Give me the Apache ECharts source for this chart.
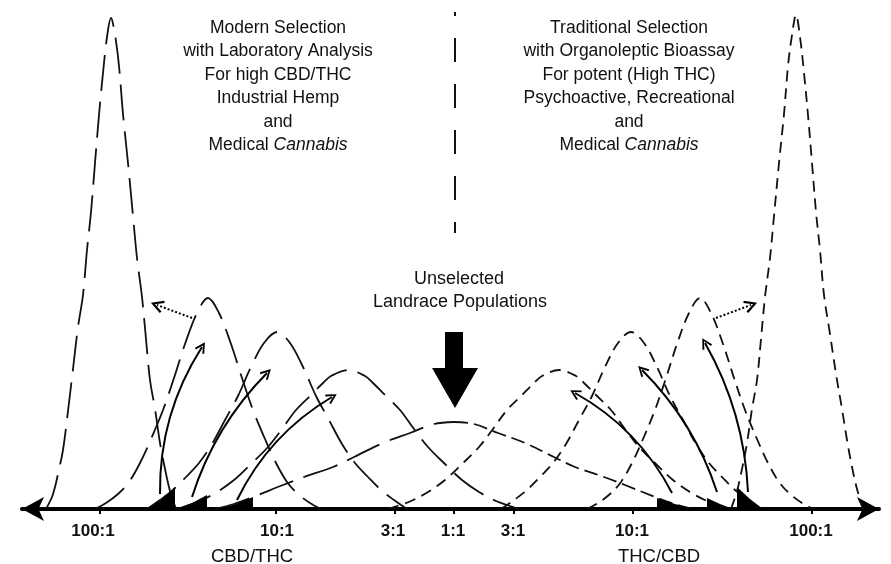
<!DOCTYPE html>
<html><head><meta charset="utf-8">
<script src="https://cdn.jsdelivr.net/npm/echarts@6/dist/echarts.min.js"></script>
<style>html,body{margin:0;padding:0;background:#fff}#c{width:891px;height:564px}</style>
</head><body><div id="c"></div>
<script>
// ---- axis ticks & labels (x position along the ratio axis) ----
const tickPos = [100, 276, 395, 454, 514, 633, 812];
const labelPos = [93, 277, 393, 453, 513, 632, 811];
const labelText = ['100:1', '10:1', '3:1', '1:1', '3:1', '10:1', '100:1'];

// ---- population curves [position, relative frequency] ----
const curveL1 = [[46,0],[52,12],[55,22],[58,35],[63,59],[68,98],[73,140],[78,182],[83,214],[87,259],[91,297],[95,346],[99,394],[103,436],[107,472],[111,491],[115,474],[119,443],[123,395],[128,346],[133,293],[137,251],[142,212],[146,170],[150,129],[155,100],[160,66],[165,40],[170,18],[176,0]];
const curveL2 = [[95,0],[106,6],[118,15],[129,27],[140,46],[151,70],[163,99],[174,131],[185,165],[197,196],[208,211],[219,196],[231,165],[242,131],[253,99],[265,70],[276,46],[287,27],[298,15],[310,6],[321,0]];
const curveL3 = [[147,0],[160,9],[173,19],[186,32],[199,46],[212,65],[225,89],[238,113],[251,142],[264,166],[277,177],[290,166],[303,142],[316,113],[329,89],[342,65],[355,46],[368,32],[381,19],[394,9],[407,0]];
const curveL4 = [[177,0],[186,3],[200,8],[217,17],[234,29],[251,45],[268,62],[282,80],[296,99],[311,114],[323,126],[331,133],[348,139],[365,133],[373,126],[385,114],[400,99],[414,80],[428,62],[445,45],[462,29],[479,17],[496,8],[510,3],[519,0]];
const curveCL = [[215,0],[234,5],[253,12],[283,24],[304,32],[333,42],[354,52],[383,66],[410,76],[434,85],[454,87]];
const curveCR = [[454,87],[474,85],[498,76],[525,66],[554,52],[575,42],[604,32],[625,24],[655,12],[674,5],[693,0]];
const curveR4 = [[388,0],[397,3],[411,8],[428,17],[445,29],[462,45],[479,62],[493,80],[507,99],[522,114],[534,126],[542,133],[559,139],[576,133],[584,126],[596,114],[611,99],[625,80],[639,62],[656,45],[673,29],[690,17],[707,8],[721,3],[730,0]];
const curveR3 = [[501,0],[514,9],[527,19],[540,32],[553,46],[566,65],[579,89],[592,113],[605,142],[618,166],[631,177],[644,166],[657,142],[670,113],[683,89],[696,65],[709,46],[722,32],[735,19],[748,9],[761,0]];
const curveR2 = [[587,0],[598,6],[610,15],[621,27],[632,46],[643,70],[655,99],[666,131],[677,165],[689,196],[700,211],[711,196],[723,165],[734,131],[745,99],[757,70],[768,46],[779,27],[790,15],[802,6],[813,0]];
const curveR1 = [[731,0],[737,18],[742,40],[747,66],[752,100],[757,129],[761,170],[765,212],[770,251],[774,293],[779,346],[784,395],[788,443],[792,474],[796,494],[800,472],[804,436],[808,394],[812,346],[816,297],[820,259],[824,214],[830,175],[836,135],[842,100],[847,69],[852,42],[857,20],[863,0]];

// ---- selected tails (filled wedges) ----
const wedgeL1 = [[147,0],[161,9],[175,22]];
const wedgeL2 = [[177,0],[192,6],[207,14]];
const wedgeL3 = [[218,0],[236,5],[253,12]];
const wedgeR1 = [[657,11],[675,5],[693,0]];
const wedgeR2 = [[707,11],[720,5],[733,0]];
const wedgeR3 = [[737,22],[750,10],[763,0]];

// ---- selection arrows [start, end] ----
const arrowL1 = [[160,15],[202,162]];
const arrowL2 = [[192,12],[267,136]];
const arrowL3 = [[237,9],[332,112]];
const arrowR1 = [[748,17],[705,166]];
const arrowR2 = [[717,17],[642,139]];
const arrowR3 = [[672,16],[575,116]];
const dotArrowL = [[192,191],[157,204]];
const dotArrowR = [[716,191],[751,204]];
const divider = [[455,497],[455,276]];
const landraceArrow = [[455,139]];

const FONT = '"Liberation Sans", Arial, Helvetica, sans-serif';
const CHEV = 'path://M0,10 L5,0 L10,10 L8.5,11 L5,3.6 L1.5,11 Z';
const LONG = [36, 11], SHORT = [11, 7], MID = [14, 6];

function curve(data, dash) {
  return { type: 'line', data: data, smooth: 0.35, symbol: 'none', silent: true, z: 3,
    lineStyle: { color: '#111', width: 1.8, type: dash } };
}
function wedge(data) {
  return { type: 'line', data: data, symbol: 'none', silent: true, z: 4,
    lineStyle: { width: 0 }, areaStyle: { color: '#000', opacity: 1 } };
}
function arrow(data, curveness, dotted, size) {
  return { type: 'lines', coordinateSystem: 'cartesian2d', silent: true, z: 5,
    data: [{ coords: data }],
    symbol: ['none', CHEV], symbolSize: size,
    lineStyle: { color: '#000', width: 2, curveness: curveness, type: dotted ? 'dotted' : 'solid', opacity: 1 } };
}

const series = [
  curve(curveL1, LONG), curve(curveL2, LONG), curve(curveL3, LONG), curve(curveL4, LONG), curve(curveCL, LONG),
  curve(curveCR, MID), curve(curveR4, SHORT), curve(curveR3, SHORT), curve(curveR2, SHORT), curve(curveR1, SHORT),
  wedge(wedgeL1), wedge(wedgeL2), wedge(wedgeL3), wedge(wedgeR1), wedge(wedgeR2), wedge(wedgeR3),
  arrow(arrowL1, 0.15, false, [13, 11]), arrow(arrowL2, 0.12, false, [13, 11]), arrow(arrowL3, 0.15, false, [13, 11]),
  arrow(arrowR1, -0.12, false, [13, 11]), arrow(arrowR2, -0.12, false, [13, 11]), arrow(arrowR3, -0.15, false, [13, 11]),
  arrow(dotArrowL, 0, true, [17, 13]), arrow(dotArrowR, 0, true, [17, 13]),
  { type: 'line', data: divider, symbol: 'none', silent: true, z: 3,
    lineStyle: { color: '#111', width: 2, type: [24, 22], dashOffset: 20 } },
  { type: 'scatter', data: landraceArrow, silent: true, z: 5,
    symbol: 'path://M13,0 L31,0 L31,36 L46,36 L23,76 L0,36 L13,36 Z', symbolSize: [46, 76],
    itemStyle: { color: '#000', opacity: 1 } }
];

const rich = { i: { fontStyle: 'italic', fontSize: 17.5, fontFamily: FONT, fill: '#111' } };
function block(x, lines) {
  return { type: 'text', x: x, y: 16.5, silent: true,
    style: { text: lines.join('\n'), textAlign: 'center', textVerticalAlign: 'top',
      fontSize: 17.5, fontFamily: FONT, fill: '#111', lineHeight: 23.4, rich: rich } };
}
function label(x, y, t, size) {
  return { type: 'text', x: x, y: y, silent: true,
    style: { text: t, textAlign: 'center', textVerticalAlign: 'middle', fontSize: size, fontFamily: FONT, fill: '#111' } };
}

const chart = echarts.init(document.getElementById('c'), null, { renderer: 'canvas' });
chart.setOption({
  animation: false,
  backgroundColor: '#fff',
  grid: { left: 22, right: 12, top: 0, bottom: 55 },
  xAxis: {
    type: 'value', min: 22, max: 879,
    axisLine: { show: true, onZero: false, symbol: ['arrow', 'arrow'], symbolSize: [18, 22],
      lineStyle: { color: '#000', width: 4 } },
    axisTick: { show: true, customValues: tickPos, length: 5, lineStyle: { color: '#000', width: 2 } },
    axisLabel: { show: true, customValues: labelPos, margin: 14, color: '#111', fontWeight: 'bold', fontSize: 17, fontFamily: FONT,
      formatter: function (v) { const k = labelPos.indexOf(v); return k >= 0 ? labelText[k] : ''; } },
    splitLine: { show: false }
  },
  yAxis: { type: 'value', min: 0, max: 509, show: false, splitLine: { show: false } },
  graphic: [
    block(278, ['Modern Selection', 'with Laboratory Analysis', 'For high CBD/THC', 'Industrial Hemp', 'and', 'Medical {i|Cannabis}']),
    block(629, ['Traditional Selection', 'with Organoleptic Bioassay', 'For potent (High THC)', 'Psychoactive, Recreational', 'and', 'Medical {i|Cannabis}']),
    label(459, 279, 'Unselected', 18),
    label(460, 302, 'Landrace Populations', 18),
    label(252, 557, 'CBD/THC', 18.5),
    label(659, 557, 'THC/CBD', 18.5)
  ],
  series: series
});
</script></body></html>
